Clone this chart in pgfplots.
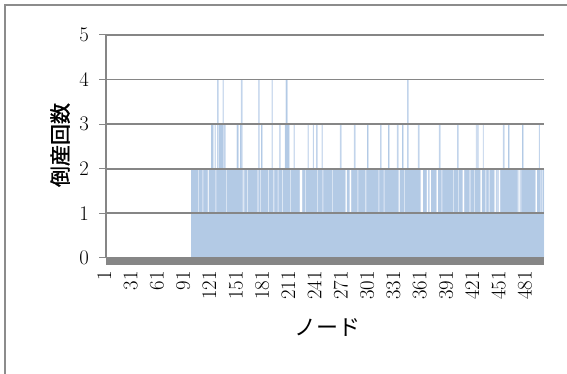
\documentclass[border=0pt]{standalone}
\usepackage{pgfplots}
\pgfplotsset{compat=1.18}
\usepackage{pgfplotstable}
\usepackage{fontspec}
\newfontfamily\jpfont{Noto Sans CJK JP}
\newfontfamily\jpbold[FakeBold=1.5]{Noto Sans CJK JP}

\definecolor{axisgray}{RGB}{134,134,134}
\definecolor{framegray}{RGB}{140,140,140}
\definecolor{barfill}{RGB}{197,214,235}
\definecolor{baredge}{RGB}{140,175,218}

% bankruptcy count per node, nodes 1..500 in order
\pgfplotstableread[row sep=\\]{
v\\
0\\0\\0\\0\\0\\0\\0\\0\\0\\0\\
0\\0\\0\\0\\0\\0\\0\\0\\0\\0\\
0\\0\\0\\0\\0\\0\\0\\0\\0\\0\\
0\\0\\0\\0\\0\\0\\0\\0\\0\\0\\
0\\0\\0\\0\\0\\0\\0\\0\\0\\0\\
0\\0\\0\\0\\0\\0\\0\\0\\0\\0\\
0\\0\\0\\0\\0\\0\\0\\0\\0\\0\\
0\\0\\0\\0\\0\\0\\0\\0\\0\\0\\
0\\0\\0\\0\\0\\0\\0\\0\\0\\0\\
0\\0\\0\\0\\0\\0\\0\\2\\2\\2\\
2\\2\\2\\2\\2\\1\\2\\2\\2\\2\\
1\\2\\2\\2\\2\\2\\1\\2\\2\\2\\
3\\3\\2\\2\\3\\1\\2\\4\\2\\3\\
3\\3\\3\\4\\2\\3\\2\\1\\2\\2\\
2\\2\\2\\2\\2\\2\\2\\2\\2\\3\\
3\\2\\2\\3\\4\\2\\1\\1\\2\\2\\
2\\1\\2\\2\\2\\2\\2\\2\\2\\2\\
2\\2\\2\\1\\4\\2\\1\\3\\2\\2\\
2\\2\\2\\2\\2\\1\\2\\2\\2\\4\\
2\\1\\2\\2\\2\\2\\1\\2\\3\\2\\
2\\1\\2\\2\\3\\4\\4\\3\\3\\2\\
1\\2\\2\\2\\3\\2\\2\\2\\2\\2\\
2\\1\\1\\1\\2\\2\\2\\1\\2\\2\\
3\\2\\2\\2\\2\\2\\3\\2\\2\\2\\
3\\1\\2\\2\\2\\2\\3\\1\\2\\2\\
2\\2\\2\\2\\2\\2\\2\\2\\1\\2\\
2\\2\\2\\2\\2\\2\\2\\3\\2\\2\\
2\\2\\2\\1\\1\\2\\2\\2\\1\\1\\
2\\2\\2\\3\\2\\2\\2\\1\\2\\2\\
2\\2\\2\\2\\2\\2\\1\\2\\3\\2\\
2\\2\\2\\2\\2\\2\\2\\2\\2\\2\\
2\\1\\2\\3\\2\\2\\2\\1\\2\\2\\
2\\2\\3\\2\\2\\2\\2\\2\\2\\2\\
2\\2\\3\\2\\1\\2\\2\\2\\3\\2\\
1\\2\\2\\2\\4\\2\\2\\2\\2\\2\\
2\\2\\2\\2\\2\\2\\3\\2\\2\\1\\
1\\1\\2\\2\\2\\2\\1\\1\\2\\1\\
1\\2\\2\\2\\2\\2\\2\\1\\1\\2\\
3\\2\\2\\1\\2\\2\\2\\2\\2\\2\\
2\\2\\2\\2\\2\\2\\1\\2\\2\\2\\
2\\3\\1\\2\\2\\2\\2\\1\\1\\2\\
2\\2\\2\\2\\2\\1\\2\\2\\2\\2\\
1\\2\\3\\2\\3\\2\\2\\1\\1\\2\\
3\\2\\2\\1\\2\\2\\2\\1\\2\\2\\
2\\2\\2\\1\\1\\2\\1\\2\\1\\1\\
2\\2\\2\\3\\2\\2\\2\\2\\2\\3\\
2\\2\\2\\2\\2\\2\\2\\2\\2\\2\\
1\\1\\2\\1\\2\\3\\2\\2\\2\\2\\
2\\2\\2\\2\\2\\2\\2\\2\\2\\2\\
1\\1\\2\\2\\3\\2\\1\\2\\1\\2\\
}\nodes

\begin{document}
\begin{tikzpicture}[x=1pt,y=1pt]
\useasboundingbox (0,0) rectangle (567,374);
% chart area border (left and top edges)
\draw[framegray, line width=1.4pt] (5,0) -- (5,369) -- (568,369);
\begin{axis}[
  at={(106pt,116pt)}, anchor=south west,
  scale only axis, width=438pt, height=223pt,
  xmin=0.5, xmax=500.5, ymin=0, ymax=5,
  axis lines*=left,
  axis line style={-, axisgray, line width=1.6pt},
  axis on top,
  ybar, bar width=0.8, bar shift=0pt,
  ytick={0,1,2,3,4,5},
  ymajorgrids,
  grid style={axisgray, line width=1.8pt},
  xtick={1,31,...,481},
  minor xtick={1,...,500},
  tick align=outside,
  major tick length=7pt, minor tick length=7pt,
  every tick/.style={axisgray, line width=1pt},
  minor tick style={axisgray, line width=1pt},
  tick label style={font=\fontsize{22}{26}\selectfont},
  xticklabel style={rotate=90, anchor=east, inner sep=0pt, xshift=-6pt, yshift=2pt},
  yticklabel style={anchor=east, inner sep=0pt, xshift=-10pt},
]
\addplot[fill=barfill, draw=baredge, draw opacity=0.3, line width=0.08pt]
  table[x expr=\coordindex+1, y=v] {\nodes};
\end{axis}
\node[font=\jpfont\fontsize{22}{26}\selectfont] at (327,46) {ノード};
\node[font=\jpbold\fontsize{21}{25}\selectfont, rotate=90] at (60,229) {倒産回数};
\end{tikzpicture}
\end{document}
